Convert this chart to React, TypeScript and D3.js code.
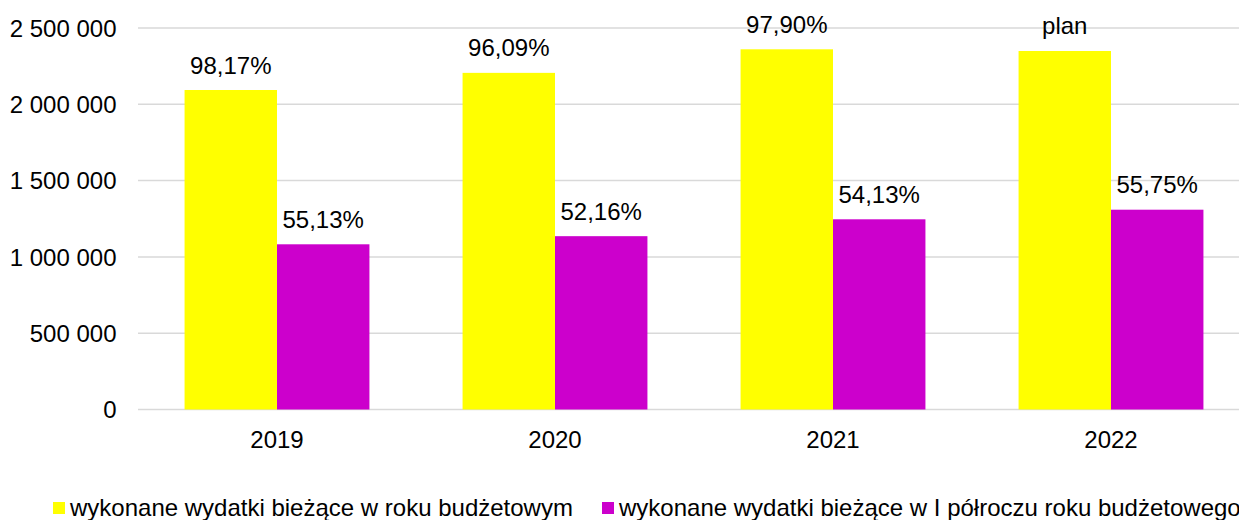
import React from "react";
import * as d3 from "d3";

const categories = ["2019", "2020", "2021", "2022"];
const seriesNames = [
  "wykonane wydatki bieżące w roku budżetowym",
  "wykonane wydatki bieżące w I półroczu roku budżetowego",
];
const annualValues = [2093700, 2206000, 2360400, 2349300];
const halfYearValues = [1082600, 1135800, 1246400, 1309300];
const annualLabels = ["98,17%", "96,09%", "97,90%", "plan"];
const halfYearLabels = ["55,13%", "52,16%", "54,13%", "55,75%"];
const yTicks = [0, 500000, 1000000, 1500000, 2000000, 2500000];
const colors = ["#FFFF00", "#CC00CC"];

const W = 1239;
const H = 520;
const FONT = "'Liberation Sans', Arial, sans-serif";
const FS = 24;

export default function App() {
  const left = 138;
  const right = 1250;
  const top = 28;
  const bottom = 409.5;

  const x = d3.scaleBand<string>().domain(categories).range([left, right]).paddingInner(0.335).paddingOuter(0.1675);
  const sub = d3.scaleBand<number>().domain([0, 1]).range([0, x.bandwidth()]);
  const y = d3.scaleLinear().domain([0, 2500000]).range([bottom, top]);
  const fmt = (v: number) => d3.format(",")(v).replace(/,/g, " ");

  const series = [annualValues, halfYearValues];
  const labels = [annualLabels, halfYearLabels];

  return (
    <svg width={W} height={H} style={{ position: "absolute", left: 0, top: 0, fontFamily: FONT }}>
      <rect x={0} y={0} width={W} height={H} fill="#fff" />
      {yTicks.map((t) => (
        <g key={t}>
          <line x1={left} x2={right} y1={y(t)} y2={y(t)} stroke="#d9d9d9" strokeWidth={1.5} />
          <text x={116.5} y={y(t)} dy="0.36em" textAnchor="end" fontSize={FS} fill="#000">
            {fmt(t)}
          </text>
        </g>
      ))}
      {categories.map((c, i) => (
        <g key={c}>
          {series.map((s, k) => {
            const bx = (x(c) as number) + (sub(k) as number);
            const bw = sub.bandwidth();
            return (
              <g key={k}>
                <rect x={bx} y={y(s[i])} width={bw} height={y(0) - y(s[i])} fill={colors[k]} />
                <text x={bx + bw / 2} y={y(s[i]) - 16.5} textAnchor="middle" fontSize={FS} fill="#000">
                  {labels[k][i]}
                </text>
              </g>
            );
          })}
          <text x={(x(c) as number) + x.bandwidth() / 2} y={447.5} textAnchor="middle" fontSize={FS} fill="#000">
            {c}
          </text>
        </g>
      ))}
      <g>
        <rect x={53} y={502} width={12} height={12} fill={colors[0]} />
        <text x={70} y={515.5} fontSize={FS} fill="#000">{seriesNames[0]}</text>
        <rect x={602} y={502} width={12} height={12} fill={colors[1]} />
        <text x={619} y={515.5} fontSize={FS} fill="#000">{seriesNames[1]}</text>
      </g>
    </svg>
  );
}
